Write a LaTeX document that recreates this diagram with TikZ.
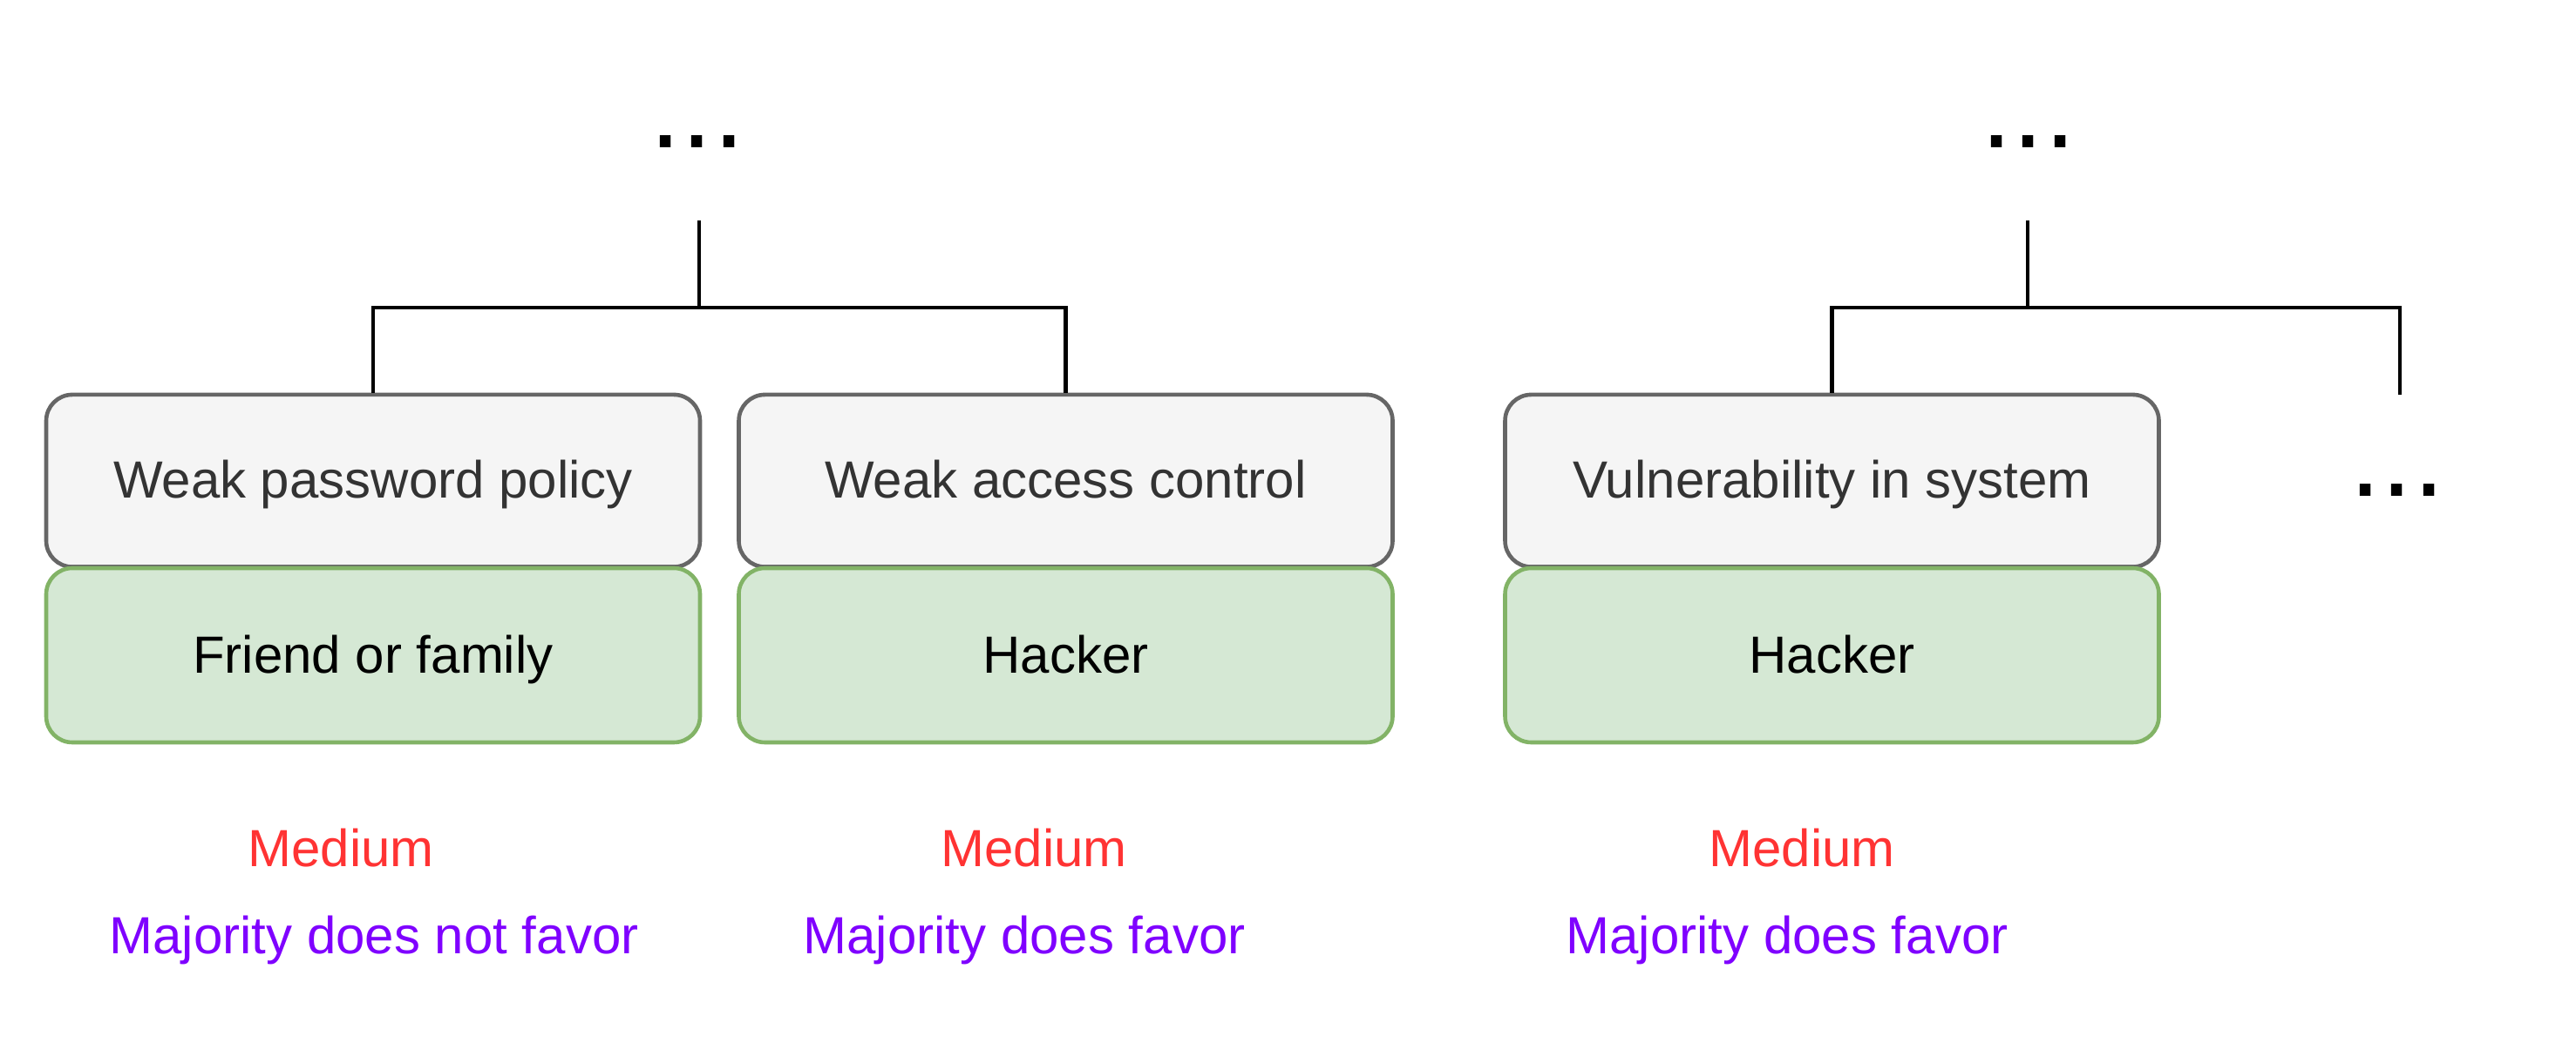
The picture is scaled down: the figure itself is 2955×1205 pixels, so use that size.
\documentclass[tikz,border=0pt]{standalone}
\usepackage{fontspec}
\setmainfont{Liberation Sans}
\definecolor{grayfill}{HTML}{F5F5F5}
\definecolor{graystroke}{HTML}{666666}
\definecolor{graytext}{HTML}{333333}
\definecolor{greenfill}{HTML}{D5E8D4}
\definecolor{greenstroke}{HTML}{82B366}
\definecolor{medred}{HTML}{FF3333}
\definecolor{majpurple}{HTML}{7F00FF}
\begin{document}
\begin{tikzpicture}[x=0.25pt,y=-0.25pt,
  base/.style={inner sep=0pt, font=\fontsize{15}{18}\selectfont},
  box/.style={base, rectangle, rounded corners=7.5pt, line width=1.15pt,
     minimum width=187.5pt, text height=10.75pt, text depth=0.7pt},
  vulnbox/.style={box, draw=graystroke, fill=grayfill, text=graytext, minimum height=49.4pt},
  actorbox/.style={box, draw=greenstroke, fill=greenfill, text=black, minimum height=50pt},
  dots/.style={inner sep=0pt, anchor=base, font=\fontsize{32.5}{36}\selectfont},
  risklbl/.style={base, anchor=base, text=medred},
  favlbl/.style={base, anchor=base, text=majpurple},
  conn/.style={line width=1.2pt, black}]
\useasboundingbox (0,0) rectangle (2955,1205);

% boxes (gray first, green on top as in the reference)
\node[vulnbox]  (b1) at (428,551.75) {Weak password policy};
\node[actorbox] (a1) at (428,752)   {Friend or family};
\node[vulnbox]  (b2) at (1222.5,551.75) {Weak access control};
\node[actorbox] (a2) at (1222.5,752)   {Hacker};
\node[vulnbox]  (b3) at (2101.5,551.75) {Vulnerability in system};
\node[actorbox] (a3) at (2101.5,752)   {Hacker};

% dots
\node[dots] (d1) at (800,170) {...};
\node[dots] (d2) at (2327,170) {...};
\node[dots] (d3) at (2750,570) {...};

% connectors
\coordinate (t1) at (802,253);
\coordinate (j1) at (802,353);
\coordinate (t2) at (2326,253);
\coordinate (j2) at (2326,353);
\coordinate (e3) at (2753,453);
\draw[conn] (t1) -- (j1) -| (b1.north);
\draw[conn] (j1) -| (b2.north);
\draw[conn] (t2) -- (j2) -| (b3.north);
\draw[conn] (j2) -| (e3);

% labels
\node[risklbl] (r1) at (391,995)  {Medium};
\node[risklbl] (r2) at (1186,995) {Medium};
\node[risklbl] (r3) at (2067,995) {Medium};
\node[favlbl]  (f1) at (429,1095)  {Majority does not favor};
\node[favlbl]  (f2) at (1175,1095) {Majority does favor};
\node[favlbl]  (f3) at (2050,1095) {Majority does favor};
\end{tikzpicture}
\end{document}
